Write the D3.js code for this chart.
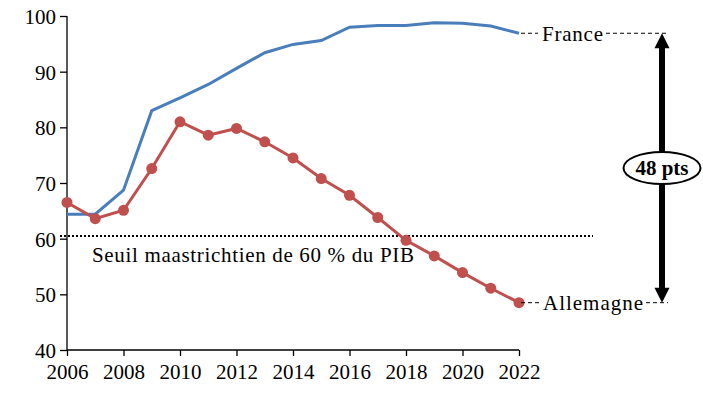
<!DOCTYPE html>
<html lang="fr">
<head>
<meta charset="UTF-8">
<title>Dette publique France / Allemagne</title>
<script src="https://d3js.org/d3.v7.min.js"></script>
<style>
  body { margin: 0; background: #fff; }
  svg text { font-family: "Liberation Serif", "Times New Roman", serif !important; fill: #000; }
</style>
</head>
<body>
<script>
// données (% du PIB)
var years = [2006, 2007, 2008, 2009, 2010, 2011, 2012, 2013, 2014, 2015, 2016, 2017, 2018, 2019, 2020, 2021, 2022];
var france = [64.4, 64.4, 68.7, 83.0, 85.3, 87.7, 90.6, 93.4, 94.9, 95.6, 98.0, 98.3, 98.3, 98.8, 98.7, 98.2, 96.9];
var allemagne = [66.5, 63.6, 65.1, 72.6, 81.0, 78.6, 79.8, 77.4, 74.5, 70.8, 67.8, 63.8, 59.7, 56.9, 53.9, 51.1, 48.5];
var seuil = 60.5;
var yTicks = [40, 50, 60, 70, 80, 90, 100];
var xTicks = [2006, 2008, 2010, 2012, 2014, 2016, 2018, 2020, 2022];

var serif = '"Liberation Serif", "Times New Roman", serif';
var width = 703, height = 396;
var svg = d3.select("body").append("svg").attr("width", width).attr("height", height);

var x = d3.scaleLinear().domain([2006, 2022]).range([67, 519]);
var y = d3.scaleLinear().domain([40, 100]).range([350, 16]);

// axes
var axisY = d3.axisLeft(y).tickValues(yTicks).tickSize(7).tickPadding(4);
var axisX = d3.axisBottom(x).tickValues(xTicks).tickFormat(d3.format("d")).tickSize(6).tickPadding(8);

var gy = svg.append("g").attr("transform", "translate(" + x(2006) + ",0)").call(axisY);
var gx = svg.append("g").attr("transform", "translate(0," + y(40) + ")").call(axisX);
[gy, gx].forEach(function(g) {
  g.attr("font-family", serif).attr("font-size", 21);
  g.select(".domain").attr("stroke", "#000").attr("stroke-width", 1.3);
  g.selectAll(".tick line").attr("stroke", "#000").attr("stroke-width", 1.3);
  g.selectAll("text").style("font-family", serif).attr("font-size", 21).attr("fill", "#000");
});
gy.select(".domain").attr("d", "M0," + y(100) + "V" + y(40));
gx.select(".domain").attr("d", "M" + x(2006) + ",0H" + x(2022));
gy.selectAll(".tick text").attr("dy", "0.36em");

// seuil de 60 %
svg.append("line")
  .attr("x1", x(2006) - 7).attr("x2", 593)
  .attr("y1", y(seuil)).attr("y2", y(seuil))
  .attr("stroke", "#000").attr("stroke-width", 2).attr("stroke-dasharray", "2,2");
svg.append("text").attr("x", 92).attr("y", 262).attr("font-size", 21)
  .attr("textLength", 322).attr("lengthAdjust", "spacing")
  .text("Seuil maastrichtien de 60 % du PIB");

var line = d3.line().x(function(d, i) { return x(years[i]); }).y(function(d) { return y(d); });

svg.append("path").datum(france).attr("d", line)
  .attr("fill", "none").attr("stroke", "#4a7ebb").attr("stroke-width", 3);

svg.append("path").datum(allemagne).attr("d", line)
  .attr("fill", "none").attr("stroke", "#c0504d").attr("stroke-width", 3);
svg.append("g").selectAll("circle").data(allemagne).enter().append("circle")
  .attr("cx", function(d, i) { return x(years[i]); })
  .attr("cy", function(d) { return y(d); })
  .attr("r", 5.5).attr("fill", "#c0504d");

// étiquettes
var last = years.length - 1;
var xArrow = 662;
function label(val, txt, tx, tw, x1) {
  var yy = y(val);
  svg.append("text").attr("x", tx).attr("y", yy).attr("dy", "0.35em").attr("font-size", 21)
    .attr("textLength", tw).attr("lengthAdjust", "spacing").text(txt);
  svg.append("line").attr("x1", x(years[last]) + 2).attr("x2", tx - 4).attr("y1", yy).attr("y2", yy)
    .attr("stroke", "#000").attr("stroke-width", 1).attr("stroke-dasharray", "4,3");
  svg.append("line").attr("x1", tx + tw + 3).attr("x2", x1).attr("y1", yy).attr("y2", yy)
    .attr("stroke", "#000").attr("stroke-width", 1).attr("stroke-dasharray", "4,3");
}
label(france[last], "France", 542, 61, 668);
label(allemagne[last], "Allemagne", 543, 100, 668);

// flèche double
var yTop = y(france[last]), yBot = y(allemagne[last]);
svg.append("line").attr("x1", xArrow).attr("x2", xArrow).attr("y1", yTop + 12).attr("y2", yBot - 12)
  .attr("stroke", "#000").attr("stroke-width", 6);
svg.append("path").attr("d", "M" + xArrow + "," + yTop + "l-7.5,15h15z").attr("fill", "#000");
svg.append("path").attr("d", "M" + xArrow + "," + yBot + "l-7.5,-15h15z").attr("fill", "#000");

svg.append("ellipse").attr("cx", xArrow).attr("cy", 168).attr("rx", 38.5).attr("ry", 16)
  .attr("fill", "#fff").attr("stroke", "#000").attr("stroke-width", 2);
svg.append("text").attr("x", xArrow).attr("y", 168).attr("dy", "0.35em")
  .attr("text-anchor", "middle").attr("font-size", 21).attr("font-weight", "bold")
  .text((france[last] - allemagne[last]).toFixed(0) + " pts");
</script>
</body>
</html>
